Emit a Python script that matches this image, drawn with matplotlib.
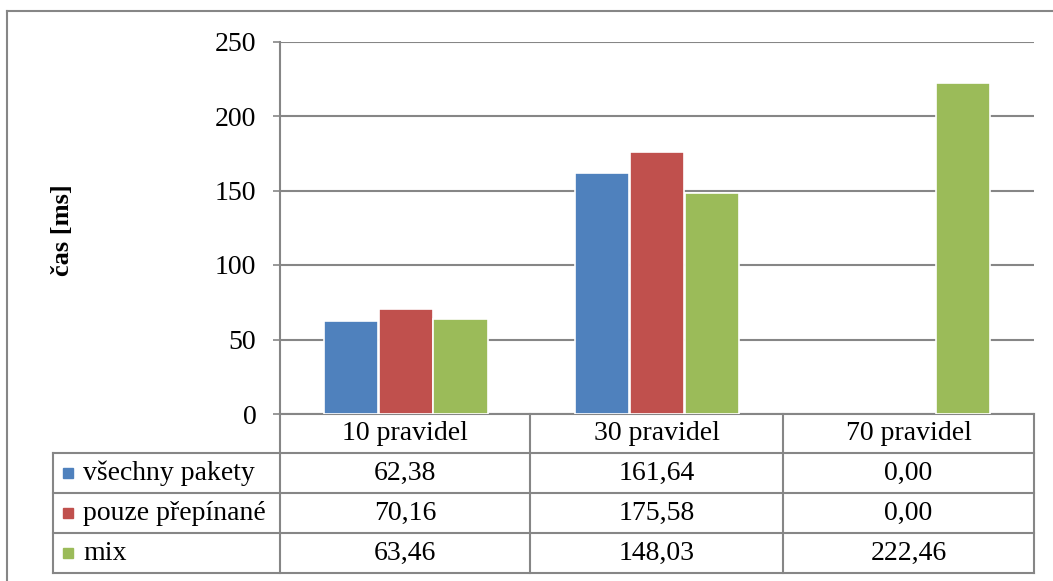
import numpy as np
import matplotlib.pyplot as plt
from matplotlib.lines import Line2D
from matplotlib.patches import Rectangle

categories = ["10 pravidel", "30 pravidel", "70 pravidel"]
series_names = ["všechny pakety", "pouze přepínané", "mix"]
vsechny = [62.38, 161.64, 0.00]
pouze = [70.16, 175.58, 0.00]
mix = [63.46, 148.03, 222.46]
y_ticks = [0, 50, 100, 150, 200, 250]

colors = ["#4F81BD", "#C0504D", "#9BBB59"]
grid_col = "#868686"
W, H = 1053, 581
fs = 20

plt.rcParams["font.family"] = ["Liberation Serif", "DejaVu Serif"]

fig = plt.figure(figsize=(W / 100, H / 100), dpi=100)


def fx(px):
    return px / W


def fy(py):
    return 1 - py / H


# plot area
ax = fig.add_axes([fx(280), fy(414), fx(1034) - fx(280), fy(41.5) - fy(414)])
ax.set_xlim(-0.5, 2.5)
ax.set_ylim(0, 250)
ax.set_yticks(y_ticks)
ax.set_yticklabels([str(t) for t in y_ticks], fontsize=fs)
ax.set_xticks([])
ax.tick_params(axis="y", length=5, width=1.2, color=grid_col, pad=12)
ax.yaxis.grid(True, color=grid_col, linewidth=1.5)
ax.set_axisbelow(True)
for side in ["top", "right"]:
    ax.spines[side].set_visible(False)
for side in ["left", "bottom"]:
    ax.spines[side].set_color(grid_col)
    ax.spines[side].set_linewidth(1.5)

x = np.arange(len(categories))
width = 0.216
offsets = [-0.218, 0, 0.218]
for vals, off, col in zip([vsechny, pouze, mix], offsets, colors):
    edges = ["white" if v > 0 else "none" for v in vals]
    ax.bar(x + off, vals, width, color=col, edgecolor=edges, linewidth=1.2,
           zorder=3)

fig.text(fx(62), fy(230), "čas [ms]", rotation=90, fontsize=19,
         fontweight="bold", ha="center", va="center")

# data table below the axes
line_kw = dict(color=grid_col, linewidth=1.5, transform=fig.transFigure)
row_y = [414, 453, 493, 533, 573]
col_x = [280, 530, 783, 1034]
for ry in row_y[1:]:
    fig.add_artist(Line2D([fx(53), fx(1034)], [fy(ry), fy(ry)], **line_kw))
for cx in col_x:
    fig.add_artist(Line2D([fx(cx), fx(cx)], [fy(414), fy(573)], **line_kw))
fig.add_artist(Line2D([fx(53), fx(53)], [fy(453), fy(573)], **line_kw))

for i, cat in enumerate(categories):
    cx = (col_x[i] + col_x[i + 1]) / 2
    fig.text(fx(cx), fy(434), cat, fontsize=fs, ha="center", va="center")

for r, (name, vals, col) in enumerate(zip(series_names,
                                          [vsechny, pouze, mix], colors)):
    cy = (row_y[r + 1] + row_y[r + 2]) / 2
    fig.add_artist(Rectangle((fx(63), fy(cy + 5)), fx(10), fy(0) - fy(10),
                             color=col, transform=fig.transFigure))
    fig.text(fx(83), fy(cy), name, fontsize=fs, ha="left", va="center")
    for i, v in enumerate(vals):
        cx = (col_x[i] + col_x[i + 1]) / 2
        fig.text(fx(cx), fy(cy), f"{v:.2f}".replace(".", ","), fontsize=fs,
                 ha="center", va="center")

# chart frame
fig.add_artist(Line2D([fx(7), fx(7)], [fy(11), 0], **line_kw))
fig.add_artist(Line2D([fx(7), 1], [fy(11), fy(11)], **line_kw))

fig.savefig("out.png", dpi=100)
